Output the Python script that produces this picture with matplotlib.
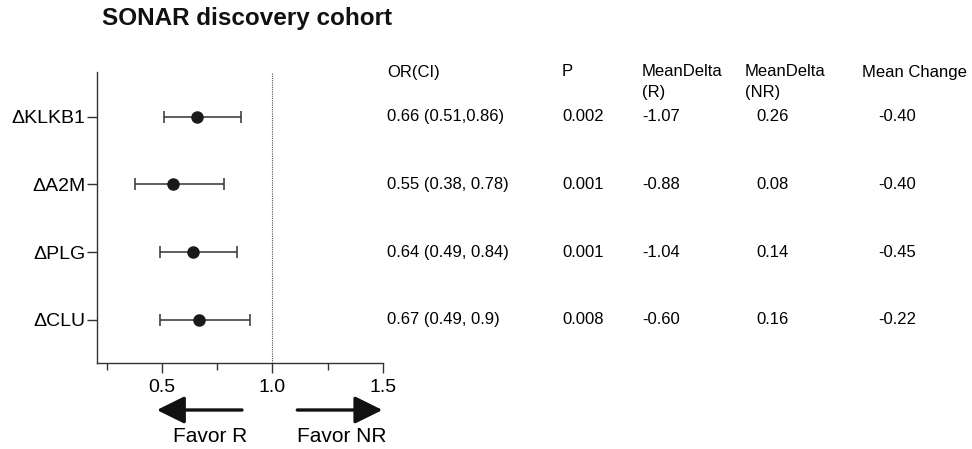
import matplotlib
matplotlib.use("Agg")
import matplotlib.pyplot as plt
import matplotlib.transforms as mtransforms

plt.rcParams.update({"font.family": ["Liberation Sans", "DejaVu Sans"]})

# ---- data ----
markers = ["\u0394KLKB1", "\u0394A2M", "\u0394PLG", "\u0394CLU"]
odds = [0.66, 0.55, 0.64, 0.67]
ci_low = [0.51, 0.38, 0.49, 0.49]
ci_high = [0.86, 0.78, 0.84, 0.90]
or_text = ["0.66 (0.51,0.86)", "0.55 (0.38, 0.78)", "0.64 (0.49, 0.84)", "0.67 (0.49, 0.9)"]
p_text = ["0.002", "0.001", "0.001", "0.008"]
delta_r = ["-1.07", "-0.88", "-1.04", "-0.60"]
delta_nr = ["0.26", "0.08", "0.14", "0.16"]
mean_change = ["-0.40", "-0.40", "-0.45", "-0.22"]

W, H = 972, 449
fig = plt.figure(figsize=(W / 100, H / 100), dpi=100)
ax = fig.add_axes([97 / W, 1 - 363 / H, (383 - 97) / W, (363 - 72) / H])

ypos = list(range(len(markers), 0, -1))
xerr = [[o - l for o, l in zip(odds, ci_low)], [h - o for o, h in zip(odds, ci_high)]]
ax.errorbar(odds, ypos, xerr=xerr, fmt="o", color="#1a1a1a", ecolor="#333333",
            elinewidth=1.1, capsize=4.5, capthick=1.1, markersize=8)
ax.axvline(1.0, color="#555555", linestyle=(0, (1, 1)), linewidth=0.8)

ax.set_xlim(0.207, 1.5)
ax.set_ylim(0.36, 4.66)
ax.set_yticks(ypos)
ax.set_yticklabels(markers, fontsize=14)
ax.set_xticks([0.5, 1.0, 1.5])
ax.set_xticklabels(["0.5", "1.0", "1.5"], fontsize=14)
ax.set_xticks([0.25, 0.75, 1.25], minor=True)
ax.tick_params(axis="x", which="major", length=7.5, width=1.0, color="#333333", pad=4)
ax.tick_params(axis="x", which="minor", length=5, width=1.0, color="#333333")
ax.tick_params(axis="y", length=7.5, width=1.0, color="#333333", pad=1)
for sp in ["top", "right"]:
    ax.spines[sp].set_visible(False)
for sp in ["left", "bottom"]:
    ax.spines[sp].set_linewidth(1.0)
    ax.spines[sp].set_color("#333333")

# ---- direction arrows ----
arr_y = H - 410
astyle = dict(arrowstyle="-|>,head_length=0.85,head_width=0.42",
              color="#111111", lw=2.4, mutation_scale=20)
ax.annotate("", xy=(0.465, arr_y), xytext=(0.875, arr_y),
            xycoords=("data", "figure pixels"), textcoords=("data", "figure pixels"),
            arrowprops=astyle, annotation_clip=False)
ax.annotate("", xy=(1.51, arr_y), xytext=(1.1, arr_y),
            xycoords=("data", "figure pixels"), textcoords=("data", "figure pixels"),
            arrowprops=astyle, annotation_clip=False)
fig.text(173 / W, 1 - 437 / H, "Favor R", ha="left", va="center", fontsize=15)
fig.text(297 / W, 1 - 437 / H, "Favor NR", ha="left", va="center", fontsize=15)

# ---- title ----
fig.text(102 / W, 1 - 19 / H, "SONAR discovery cohort", ha="left", va="center",
         fontsize=17.5, fontweight="bold", color="#111111")

# ---- table ----
trans = mtransforms.blended_transform_factory(fig.transFigure, ax.transData)
hdr_y1 = 1 - 72 / H
hdr_y2 = 1 - 93 / H
fs = 12
fig.text(387 / W, hdr_y1, "OR(CI)", fontsize=fs, va="center")
fig.text(562 / W, hdr_y1, "P", fontsize=fs, va="center")
fig.text(642 / W, hdr_y1, "MeanDelta", fontsize=fs, va="center")
fig.text(642 / W, hdr_y2, "(R)", fontsize=fs, va="center")
fig.text(745 / W, hdr_y1, "MeanDelta", fontsize=fs, va="center")
fig.text(745 / W, hdr_y2, "(NR)", fontsize=fs, va="center")
fig.text(862 / W, hdr_y1, "Mean Change", fontsize=fs, va="center")

cols = [(387, or_text), (562, p_text), (642, delta_r), (756, delta_nr), (878, mean_change)]
for x, vals in cols:
    for y, v in zip(ypos, vals):
        ax.text(x / W, y, v, transform=trans, fontsize=fs, va="center", ha="left")

fig.savefig("out.png", dpi=100, facecolor="white")
